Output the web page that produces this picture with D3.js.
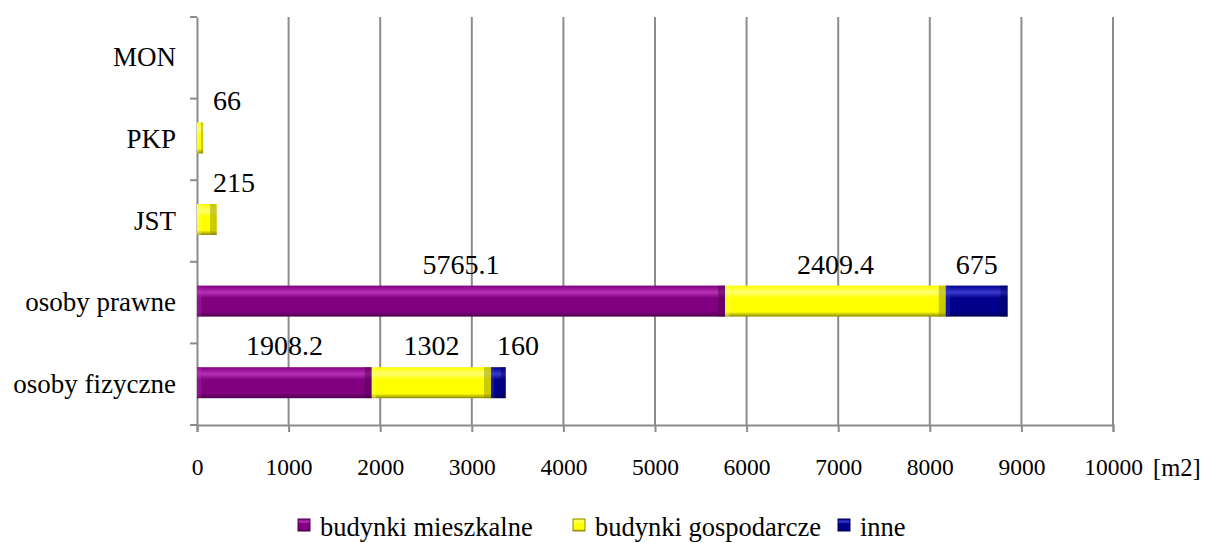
<!DOCTYPE html>
<html><head><meta charset="utf-8">
<script src="https://cdn.jsdelivr.net/npm/d3@7"></script>
<style>body{margin:0;background:#fff}svg{display:block}svg text{fill:#000}</style>
</head><body><svg id="c" width="1205" height="543"></svg>
<script>
const categories = ["osoby fizyczne","osoby prawne","JST","PKP","MON"];
const seriesNames = ["budynki mieszkalne","budynki gospodarcze","inne"];
const mieszkalne = [1908.2, 5765.1, 0, 0, 0];
const gospodarcze = [1302, 2409.4, 215, 66, 0];
const inne = [160, 675, 0, 0, 0];
const xTicks = [0,1000,2000,3000,4000,5000,6000,7000,8000,9000,10000];
const unitLabel = "[m2]";

const colors = ["#800080","#ffff00","#00008b"];
const light = ["#b52fb5","#ffff70","#3a3ad0"];
const dark = ["#4d004d","#8a8a00","#000055"];
const FONT = "'Liberation Serif'";

const svg = d3.select("#c");
const m = {l:197, r:1113, t:17, b:425};
const x = d3.scaleLinear().domain([0,10000]).range([m.l,m.r]);
const y = d3.scaleBand().domain(categories.slice().reverse()).range([m.t,m.b]);

const defs = svg.append("defs");
colors.forEach((c,i)=>{
  const g = defs.append("linearGradient").attr("id","g"+i).attr("x1",0).attr("y1",0).attr("x2",0).attr("y2",1);
  g.append("stop").attr("offset","0%").attr("stop-color",c);
  g.append("stop").attr("offset","22%").attr("stop-color",light[i]);
  g.append("stop").attr("offset","40%").attr("stop-color",c);
  g.append("stop").attr("offset","85%").attr("stop-color",c);
  g.append("stop").attr("offset","100%").attr("stop-color",dark[i]);
});

// grid
svg.append("g").selectAll("line").data(xTicks.slice(1)).join("line")
  .attr("x1",d=>x(d)).attr("x2",d=>x(d)).attr("y1",m.t).attr("y2",m.b)
  .attr("stroke","#8c8c8c").attr("stroke-width",2);

// x axis
const xa = svg.append("g").attr("transform",`translate(0,${m.b})`)
  .call(d3.axisBottom(x).tickValues(xTicks).tickSize(7).tickPadding(26).tickFormat(d3.format("d")));
xa.attr("font-family",null);
xa.select(".domain").attr("stroke","#8c8c8c").attr("stroke-width",2);
xa.selectAll(".tick line").attr("stroke","#8c8c8c").attr("stroke-width",2);
xa.selectAll("text").attr("font-size",23.5).style("font-family",FONT);
svg.append("text").attr("x",1153).attr("y",m.b+51).attr("font-size",24.5).style("font-family",FONT).text(unitLabel);

// y axis
const ya = svg.append("g").attr("transform",`translate(${m.l},0)`)
  .call(d3.axisLeft(y).tickSize(0).tickPadding(21));
ya.attr("font-family",null);
ya.select(".domain").attr("stroke","#8c8c8c").attr("stroke-width",2);
ya.selectAll("text").attr("font-size",27).style("font-family",FONT);
svg.append("g").selectAll("line").data(d3.range(6)).join("line")
  .attr("x1",m.l-7).attr("x2",m.l).attr("y1",i=>m.t+i*y.bandwidth()).attr("y2",i=>m.t+i*y.bandwidth())
  .attr("stroke","#8c8c8c").attr("stroke-width",2);

// stacked bars
const rows = categories.map((c,i)=>({cat:c, s0:mieszkalne[i], s1:gospodarcze[i], s2:inne[i]}));
const stack = d3.stack().keys(["s0","s1","s2"])(rows);
const bh = 31;
stack.forEach((layer,si)=>{
  const g = svg.append("g");
  layer.forEach(d=>{
    const v = d[1]-d[0];
    if(v<=0) return;
    const x0=x(d[0]), x1=x(d[1]);
    const yc = y(d.data.cat)+y.bandwidth()/2;
    const yt = yc-17;
    g.append("rect").attr("x",x0).attr("y",yt).attr("width",x1-x0).attr("height",bh)
      .attr("fill",`url(#g${si})`);
    const bw = Math.min(7,(x1-x0)/3);
    g.append("rect").attr("x",x1-bw).attr("y",yt).attr("width",bw).attr("height",bh)
      .attr("fill",dark[si]).attr("opacity",0.45);
    g.append("rect").attr("x",x0).attr("y",yt).attr("width",bw*0.6).attr("height",bh)
      .attr("fill",light[si]).attr("opacity",0.35);
    const lbl = d3.format("~f")(+v.toFixed(1));
    let lx = (x0+x1)/2;
    const half = lbl.length*7;
    if(x1-x0 < 60) lx = Math.max(lx, x0 + (x0<=m.l+1 ? 16 : 6) + half);
    svg.append("text").attr("x",lx).attr("y",yt-12).attr("text-anchor","middle")
      .attr("font-size",28).style("font-family",FONT).text(lbl);
  });
});

// legend
const lg = svg.append("g");
const lx0 = [298,573,838];
seriesNames.forEach((n,i)=>{
  lg.append("rect").attr("x",lx0[i]).attr("y",519).attr("width",12).attr("height",12).attr("fill",`url(#g${i})`)
    .attr("stroke",dark[i]).attr("stroke-width",1);
  lg.append("text").attr("x",lx0[i]+22).attr("y",536).attr("font-size",26.5).style("font-family",FONT).text(n);
});
</script></body></html>
